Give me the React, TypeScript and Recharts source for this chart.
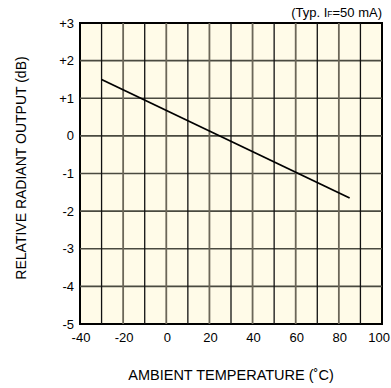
import React from "react";
import { LineChart, Line, XAxis, YAxis, ReferenceLine, ReferenceArea } from "recharts";

const temperature = [-30, 85];
const relativeOutput = [1.5, -1.65];
const xTicks = [-40, -20, 0, 20, 40, 60, 80, 100];
const yTicks = [-5, -4, -3, -2, -1, 0, 1, 2, 3];
const xGrid = [-30, -20, -10, 0, 10, 20, 30, 40, 50, 60, 70, 80, 90];
const yGrid = [-4, -3, -2, -1, 0, 1, 2];

const data = temperature.map((t, i) => ({ t, v: relativeOutput[i] }));

const FONT = "Arial, 'Liberation Sans', Helvetica, sans-serif";

const XTick = (props: any) => {
  const { x, payload } = props;
  const isLast = payload.value === 100;
  return (
    <text
      x={isLast ? 390 : x + 1}
      y={342}
      textAnchor={isLast ? "end" : "middle"}
      fontSize={13}
      fontFamily={FONT}
      fill="#000"
    >
      {payload.value}
    </text>
  );
};

const YTick = (props: any) => {
  const { y, payload } = props;
  const v = payload.value;
  const label = v > 0 ? `+${v}` : `${v}`;
  return (
    <text
      x={74}
      y={y}
      dy="0.355em"
      textAnchor="end"
      fontSize={13}
      fontFamily={FONT}
      fill="#000"
    >
      {label}
    </text>
  );
};

export default function App() {
  return (
    <div style={{ position: "absolute", left: 0, top: 0, width: 391, height: 388, background: "#fff" }}>
      <LineChart
        width={391}
        height={388}
        data={data}
        margin={{ top: 23, right: 9, bottom: 0, left: 0 }}
      >
        <XAxis
          dataKey="t"
          type="number"
          domain={[-40, 100]}
          ticks={xTicks}
          height={64}
          axisLine={false}
          tickLine={false}
          tick={<XTick />}
          interval={0}
        />
        <YAxis
          type="number"
          domain={[-5, 3]}
          ticks={yTicks}
          width={80}
          axisLine={false}
          tickLine={false}
          tick={<YTick />}
          interval={0}
        />
        <ReferenceArea x1={-40} x2={100} y1={-5} y2={3} fill="#fffbe8" fillOpacity={1} stroke="none" />
        {yGrid.map((g) => (
          <ReferenceLine key={`h${g}`} y={g} stroke="#4a4a40" strokeWidth={1.6} />
        ))}
        {xGrid.map((g) => (
          <ReferenceLine
            key={`v${g}`}
            x={g}
            stroke={g % 20 === 0 ? "#6b6658" : "#111"}
            strokeWidth={g % 20 === 0 ? 1.8 : 1.3}
          />
        ))}
        <ReferenceArea x1={-40} x2={100} y1={-5} y2={3} fill="none" stroke="#000" strokeWidth={2} />
        <Line
          dataKey="v"
          stroke="#000"
          strokeWidth={1.8}
          dot={false}
          isAnimationActive={false}
        />
        <text x={382} y={17} textAnchor="end" fontSize={13} fontFamily={FONT} fill="#000">
          (Typ. I<tspan fontSize={8.5}>F</tspan>=50 mA)
        </text>
        <text
          x={231}
          y={380}
          textAnchor="middle"
          fontSize={14.5}
          fontFamily={FONT}
          fill="#000"
        >
          AMBIENT TEMPERATURE (˚C)
        </text>
        <text
          transform="translate(26 168) rotate(-90)"
          textAnchor="middle"
          fontSize={14}
          fontFamily={FONT}
          fill="#000"
        >
          RELATIVE RADIANT OUTPUT (dB)
        </text>
      </LineChart>
    </div>
  );
}
